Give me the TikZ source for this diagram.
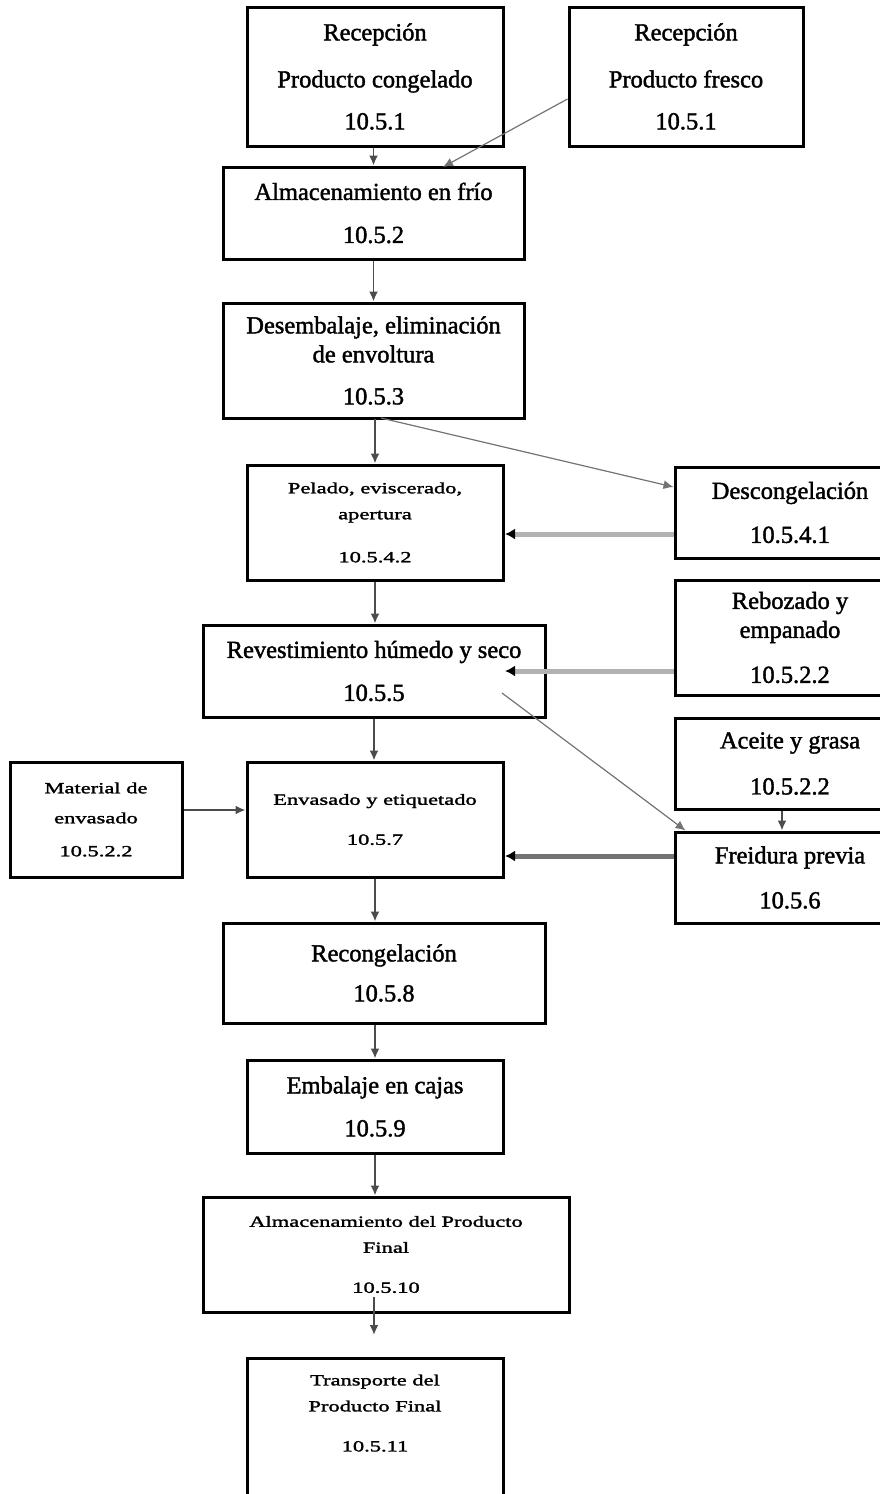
\documentclass[tikz,border=0pt]{standalone}
\usepackage{fontspec}
\setmainfont{Liberation Serif}[FakeBold=1.6]
\newfontfamily\widefont[FakeStretch=1.45, FakeBold=1.8]{Liberation Serif}
\usetikzlibrary{arrows.meta}
\tikzset{>={Latex[length=10pt,width=9pt]}}
\newcommand{\bigtxt}{\fontsize{24.5}{29}\selectfont}
\newcommand{\smalltxt}{\widefont\fontsize{15.5}{26}\selectfont}
\tikzset{
  stepbox/.style={draw, line width=3pt, align=center, inner sep=0pt, font=\bigtxt},
  smallbox/.style={stepbox, font=\smalltxt},
  flow/.style={->, draw=black!70, line width=1.8pt},
  side/.style={->, draw=black!55, line width=1.2pt},
  feed/.style={-{Latex[length=10pt,width=11pt,color=black]}, draw=black!30, line width=5pt},
}

\begin{document}
\begin{tikzpicture}[x=1pt, y={(0pt,-1pt)}]
    \useasboundingbox (0,0) rectangle (879,1494);

    % main line
    \node[stepbox, minimum width=256, minimum height=139] (recepcong) at (375,76.5)
        {Recepción\\[18pt]Producto congelado\\[13pt]10.5.1};
    \node[stepbox, minimum width=234, minimum height=139] (recepfres) at (686,76.5)
        {Recepción\\[18pt]Producto fresco\\[13pt]10.5.1};
    \node[stepbox, minimum width=301, minimum height=92] (almfrio) at (373.5,213)
        {Almacenamiento en frío\\[14pt]10.5.2};
    \node[stepbox, minimum width=301, minimum height=115] (desemb) at (373.5,360.5)
        {Desembalaje, eliminación\\de envoltura\\[13pt]10.5.3};
    \node[smallbox, minimum width=256, minimum height=115] (pelado) at (375,522.5)
        {Pelado, eviscerado,\\apertura\\[17pt]10.5.4.2};
    \node[stepbox, minimum width=342, minimum height=92] (revest) at (374,671)
        {Revestimiento húmedo y seco\\[14pt]10.5.5};
    \node[smallbox, minimum width=256, minimum height=115] (envasado) at (375,819.5)
        {Envasado y etiquetado\\[14pt]10.5.7};
    \node[stepbox, minimum width=322, minimum height=100] (recong) at (384,973)
        {Recongelación\\[11pt]10.5.8};
    \node[stepbox, minimum width=256, minimum height=93] (embalaje) at (375,1106.5)
        {Embalaje en cajas\\[14pt]10.5.9};
    \node[smallbox, minimum width=366, minimum height=115] (almfinal) at (386,1254.5)
        {Almacenamiento del Producto\\Final\\[14pt]10.5.10};
    \node[smallbox, minimum width=256, minimum height=142] (transporte) at (375,1429)
        {Transporte del\\Producto Final\\[14pt]10.5.11\\[6pt]\mbox{}};

    % side inputs
    \node[stepbox, minimum width=230, minimum height=91] (descong) at (790,512.5)
        {Descongelación\\[15pt]10.5.4.1};
    \node[stepbox, minimum width=230, minimum height=115] (rebozado) at (790,637.5)
        {Rebozado y\\empanado\\[16pt]10.5.2.2};
    \node[stepbox, minimum width=230, minimum height=91] (aceite) at (790,763.5)
        {Aceite y grasa\\[17pt]10.5.2.2};
    \node[stepbox, minimum width=230, minimum height=91] (freidura) at (790,877.5)
        {Freidura previa\\[16pt]10.5.6};
    \node[smallbox, minimum width=172, minimum height=115] (material) at (96,819.5)
        {Material de\\[4pt]envasado\\[7pt]10.5.2.2};

    \coordinate (finstart) at (374,1297);
    \coordinate (finend) at (374,1335);

    \draw[flow] (recepcong.south -| almfrio.north) -- (almfrio.north);
    \draw[side] (recepfres.west |- 0,99) -- (443,167);
    \draw[flow] (almfrio.south) -- (desemb.north);
    \draw[flow] (desemb.south) -- (pelado.south |- desemb.south) -- (pelado.north);
    \draw[side] (381,418) -- (descong.west |- 0,487);
    \draw[feed] (descong.west |- 0,534) -- (505,534);
    \draw[flow] (pelado.south) -- (pelado.south |- revest.north);
    \draw[feed] (rebozado.west |- 0,671) -- (505,671);
    \draw[side] (502,693) -- ([xshift=12pt]freidura.north west);
    \draw[flow] (revest.south) -- (revest.south |- envasado.north);
    \draw[flow] ([xshift=-8pt]aceite.south) -- ([xshift=-8pt]freidura.north);
    \draw[feed, draw=black!55] (freidura.west |- 0,856) -- (505,856);
    \draw[flow] (material.east |- 0,810) -- (envasado.west |- 0,810);
    \draw[flow] (envasado.south) -- (envasado.south |- recong.north);
    \draw[flow] (embalaje.north |- recong.south) -- (embalaje.north);
    \draw[flow] (embalaje.south) -- (embalaje.south |- almfinal.north);
    \draw[flow] (finstart) -- (finend);
\end{tikzpicture}
\end{document}
